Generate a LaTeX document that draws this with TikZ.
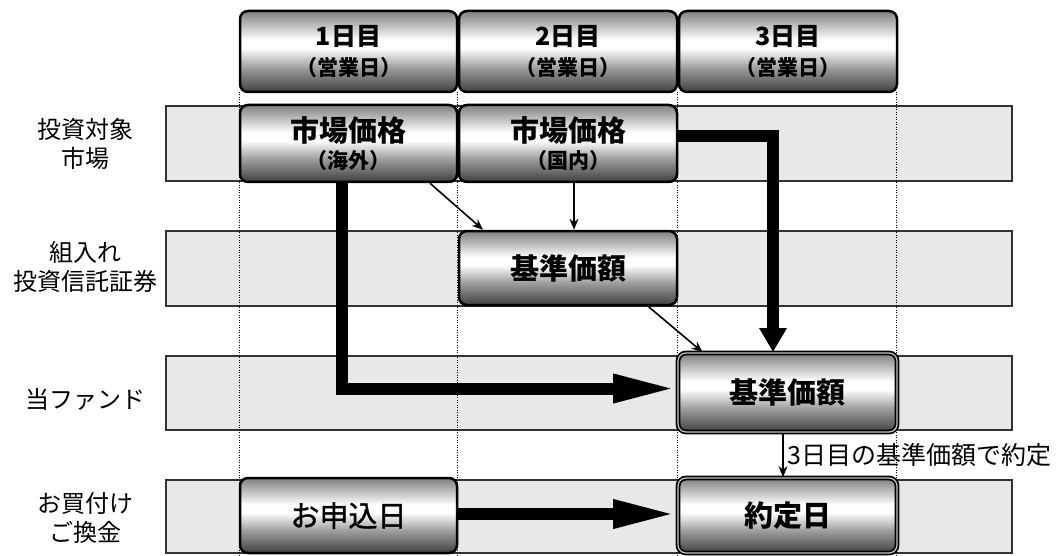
\documentclass[tikz,border=0pt]{standalone}
\usepackage{fontspec}
\setmainfont{Noto Sans CJK JP}
\newfontfamily\jpmed[FakeBold=1.2]{Noto Sans CJK JP}
\usetikzlibrary{arrows.meta}
\definecolor{bandgray}{gray}{0.91}
\definecolor{shA}{gray}{0.25}
\definecolor{shB}{gray}{0.62}
\definecolor{shC}{gray}{0.50}
\pgfdeclareverticalshading{boxshade}{100bp}{color(0bp)=(shA); color(25bp)=(shA); color(40bp)=(shB); color(52bp)=(white); color(57bp)=(white); color(75bp)=(shC); color(100bp)=(shC)}
\newcommand\fHdA{\fontsize{25}{30}\selectfont\bfseries}
\newcommand\fHdB{\fontsize{21}{30}\selectfont\bfseries}
\newcommand\fBxA{\fontsize{29}{32}\selectfont\bfseries}
\newcommand\fBxB{\fontsize{21}{32}\selectfont\bfseries}
\newcommand\fLab{\fontsize{24}{29.5}\selectfont}
\begin{document}
\begin{tikzpicture}[x=1pt,y=-1pt,
  band/.style={draw=black!80,line width=1.3pt,fill=bandgray},
  vdot/.style={line width=1pt,dash pattern=on 1pt off 1.5pt},
  box/.style={draw=black,line width=2.5pt,rounded corners=8pt,shading=boxshade,inner sep=0pt,align=center},
  dbox/.style={box,double=gray!45,double distance=1.2pt,line width=1.8pt},
  lab/.style={align=center,inner sep=0pt,font=\fLab},
  thin/.style={-{Stealth[length=11pt,width=9pt]},line width=1.6pt},
  fat/.style={line width=12pt},
  fatv/.style={fat,-{Triangle[length=24pt,width=26pt]}},
  fath/.style={fat,-{Triangle[length=64pt,width=26pt]}}]
\useasboundingbox (0,0) rectangle (1059,556);
% row bands
\foreach \t/\b in {106/181,231/306,356/430,480/553}
  \draw[band] (166,\t) rectangle (1012,\b);
% day separators
\foreach \x in {239,457.5,677.5,896}
  \draw[vdot] (\x,92) -- (\x,556);
% row labels
\node[lab] (r1) at (85,144) {投資対象\\市場};
\node[lab] (r2) at (85,267) {組入れ\\投資信託証券};
\node[lab] (r3) at (85,399) {当ファンド};
\node[lab] (r4) at (85,518) {お買付け\\ご換金};
% header boxes
\node[box,minimum width=217pt,minimum height=81pt] (d1) at (348.5,51.5) {\fHdA 1日目\\[8pt]\fHdB （営業日）};
\node[box,minimum width=218pt,minimum height=81pt] (d2) at (568,51.5) {\fHdA 2日目\\[8pt]\fHdB （営業日）};
\node[box,minimum width=218pt,minimum height=81pt] (d3) at (788,51.5) {\fHdA 3日目\\[8pt]\fHdB （営業日）};
% content boxes
\node[box,minimum width=217pt,minimum height=77pt] (mk1) at (348.5,143.5) {\fBxA 市場価格\\[5pt]\fBxB （海外）};
\node[box,minimum width=218pt,minimum height=77pt] (mk2) at (568,143.5) {\fBxA 市場価格\\[5pt]\fBxB （国内）};
\node[box,minimum width=218pt,minimum height=74pt] (kj2) at (568,268) {\fBxA 基準価額};
\node[dbox,minimum width=219pt,minimum height=79pt] (fund) at (787.5,392.5) {\fBxA 基準価額};
\node[box,minimum width=217pt,minimum height=75pt] (app) at (348.5,515.5) {\fontsize{29}{32}\selectfont\jpmed お申込日};
\node[dbox,minimum width=219pt,minimum height=75pt] (yak) at (787.5,515.5) {\fBxA 約定日};
% connectors
\draw[fath] ([xshift=-6.5pt]mk1.south) |- ([yshift=4pt]fund.west);
\draw[fatv] ([yshift=7.5pt]mk2.east) -| ([xshift=-14.5pt]fund.north);
\draw[thin] ([xshift=81.5pt]mk1.south) -- ([xshift=-85pt]kj2.north);
\draw[thin] ([xshift=6pt]mk2.south) -- ([xshift=6pt]kj2.north);
\draw[thin] ([xshift=80pt]kj2.south) -- ([xshift=-85pt]fund.north);
\draw[thin] ([xshift=-4.5pt]fund.south) -- node[right=4pt,inner sep=0pt,font=\fontsize{25}{28}\selectfont] (note) {3日目の基準価額で約定} ([xshift=-4.5pt]yak.north);
\draw[fath] ([yshift=1.5pt]app.east) -- ([yshift=1.5pt]yak.west);
\end{tikzpicture}
\end{document}
